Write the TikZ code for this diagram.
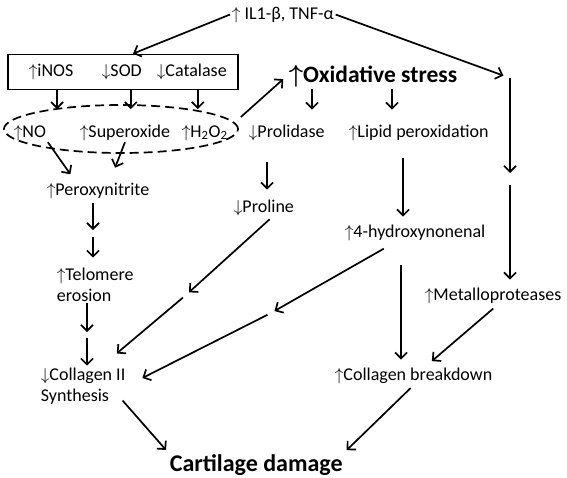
\documentclass[tikz,border=0pt]{standalone}
\usepackage{fontspec}
\setmainfont{Carlito}
\usetikzlibrary{shapes.geometric,arrows.meta}

\tikzset{
  txt/.style={anchor=base west, inner sep=1pt, font=\fontsize{18}{21}\selectfont},
  bigtxt/.style={txt, font=\fontsize{23.5}{26}\selectfont\bfseries\boldmath},
}

\begin{document}
\begin{tikzpicture}[x=1pt, y=-1pt, line width=1.7pt, >={Straight Barb[length=6pt,width=12pt]}]
  \useasboundingbox (0,0) rectangle (567,477);
  % cytokines, enzymes, radicals
  \path (230,19) node[txt](il) {$\uparrow$ IL1-β, TNF-α};
  \path (123,72) node[draw, minimum width=230pt, minimum height=35pt](box) {};
  \path (27,76) node[txt](inos) {$\uparrow$iNOS} (100,76) node[txt](sod) {$\downarrow$SOD}
        (155,76) node[txt](cat) {$\downarrow$Catalase};
  \path (121,129) node[draw, ellipse, dash pattern=on 9pt off 5pt,
        minimum width=234pt, minimum height=48pt](ell) {};
  \path (12,137) node[txt](no) {$\uparrow$NO} (78,137) node[txt](sup) {$\uparrow$Superoxide}
        (180,137) node[txt](hoo) {$\uparrow$H\textsubscript{2}O\textsubscript{2}};
  \path (287,82) node[bigtxt](ox) {$\uparrow$Oxidative stress};
  \path (247,137) node[txt](prol) {$\downarrow$Prolidase} (347,137) node[txt](lip) {$\uparrow$Lipid peroxidation};
  % middle
  \path (45,195) node[txt](perox) {$\uparrow$Peroxynitrite};
  \path (232,212) node[txt](pro) {$\downarrow$Proline};
  \path (343,237) node[txt](hne) {$\uparrow$4-hydroxynonenal};
  \path (55,301) node[txt, align=left](tel) {$\uparrow$Telomere\\erosion};
  \path (423,300) node[txt](metal) {$\uparrow$Metalloproteases};
  \path (39,401) node[txt, align=left](col) {$\downarrow$Collagen II\\Synthesis};
  \path (333,380) node[txt](brk) {$\uparrow$Collagen breakdown};
  \path (168,471) node[bigtxt, font=\fontsize{24}{26}\selectfont\bfseries](car) {Cartilage damage};
  % gaps in the chains
  \coordinate (r1) at (510,78);
  \coordinate (r2) at (510,179);
  \coordinate (m1) at (186,295);
  \coordinate (m2) at (271,313);
  \coordinate (m3) at (87,335);
  \coordinate (m4) at (93,233);

  \draw[->] (il.west) -- ([xshift=10pt]box.north);
  \draw[->, shorten >=7pt] (il.east) -- (r1);
  \draw[->, shorten >=-5pt] ([xshift=6pt]inos.south |- box.south) -- ([xshift=6pt]inos.south |- ell.north);
  \draw[->, shorten >=-5pt] ([xshift=9pt]sod.south |- box.south) -- ([xshift=9pt]sod.south |- ell.north);
  \draw[->, shorten >=-5pt] ([xshift=6pt]cat.south |- box.south) -- ([xshift=6pt]cat.south |- ell.north);
  \draw[->, shorten >=5pt] ([shift={(2pt,12pt)}]ell.east) -- (ox.west);
  \draw[->, shorten >=13pt] ([xshift=65pt]prol.north west |- ox.south) -- ([xshift=65pt]prol.north west);
  \draw[->, shorten >=13pt] ([xshift=45pt]lip.north west |- ox.south) -- ([xshift=45pt]lip.north west);
  \draw[->, shorten <=20pt, shorten >=8pt] ([xshift=35pt]pro.north west |- prol.south) -- ([xshift=35pt]pro.north west);
  \draw[->, shorten <=16pt, shorten >=6pt] ([xshift=56pt]lip.south west) -- ([xshift=56pt]lip.south west |- hne.north);
  \draw[->, shorten >=6pt] (r1) -- (r2);
  \draw[->, shorten <=6pt, shorten >=6pt] (r2) -- (r2 |- metal.north);
  \draw[->, shorten >=8pt] (no.south east) -- ([xshift=30pt]perox.north west);
  \draw[->, shorten >=14pt] (sup.south) -- ([xshift=65pt]perox.north west);
  \draw[->, shorten <=3pt, shorten >=3pt] (perox.south -| m4) -- (m4);
  \draw[->, shorten <=4pt, shorten >=8pt] (m4) -- (m4 |- tel.north);
  \draw[->, shorten >=3pt] (tel.south -| m3) -- (m3);
  \draw[->, shorten <=3pt] (m3) -- (m3 |- col.north);
  \draw[->, shorten <=3pt, shorten >=4pt] ([xshift=8pt]pro.south) -- (m1);
  \draw[->, shorten <=4pt, shorten >=19pt] (m1) -- ([xshift=-25pt]col.north east);
  \draw[->, shorten <=13pt, shorten >=4pt] ([xshift=-20pt]hne.south) -- (m2);
  \draw[->, shorten <=4pt, shorten >=17pt] (m2) -- (col.east);
  \draw[->, shorten <=23pt, shorten >=6pt] ([xshift=-14pt]hne.south) -- ([xshift=-14pt]hne.south |- brk.north);
  \draw[->, shorten <=5pt, shorten >=7pt] ([xshift=4pt]metal.south) -- ([xshift=13pt]brk.north);
  \draw[->, shorten <=-7pt, shorten >=3pt] (col.south east) -- (car.north west);
  \draw[->, shorten <=4pt, shorten >=3pt] (brk.south) -- (car.north east);
\end{tikzpicture}
\end{document}
